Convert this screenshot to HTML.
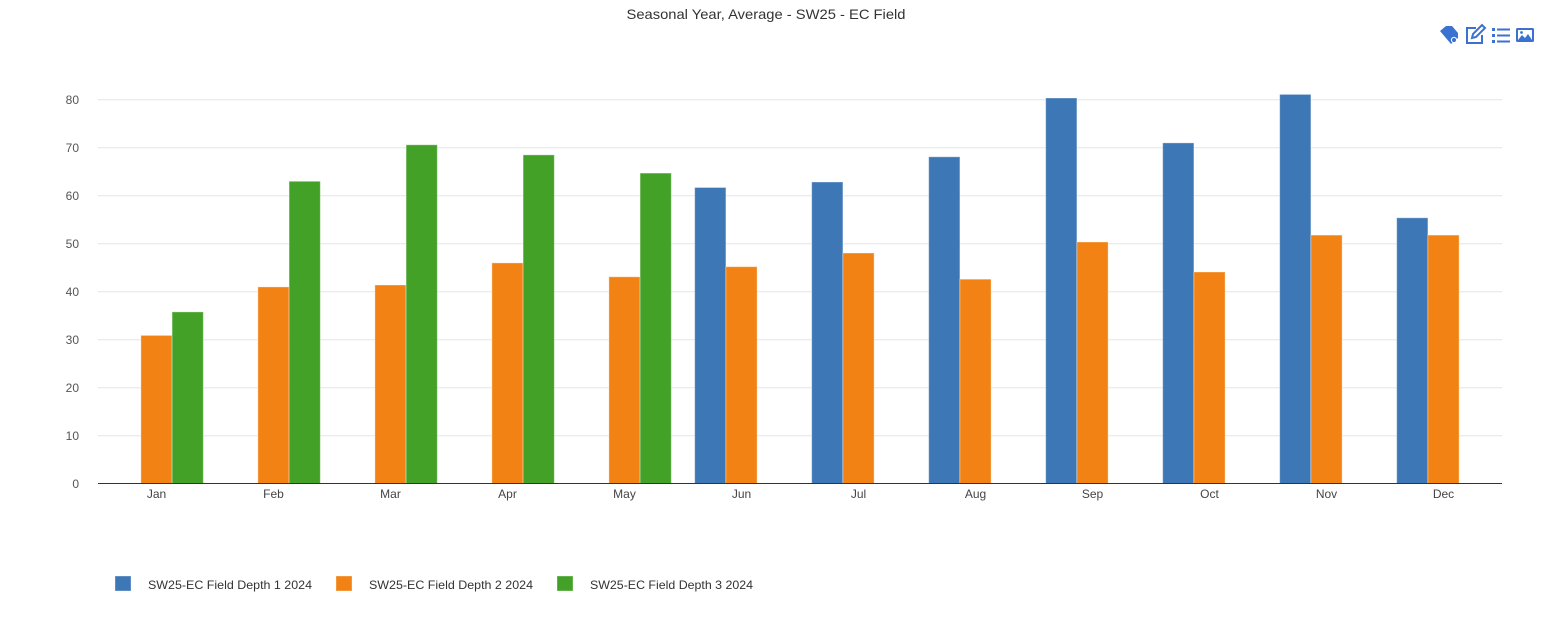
<!DOCTYPE html>
<html><head><meta charset="utf-8"><style>
html,body{margin:0;padding:0;background:#fff;width:1546px;height:622px;overflow:hidden}
svg{display:block;font-family:"Liberation Sans",sans-serif}
</style></head><body>
<svg width="1546" height="622" viewBox="0 0 1546 622" xmlns="http://www.w3.org/2000/svg">
<rect width="1546" height="622" fill="#fff"/>
<text x="766" y="19" text-anchor="middle" font-size="14" fill="#333" textLength="279" lengthAdjust="spacingAndGlyphs">Seasonal Year, Average - SW25 - EC Field</text>

<!-- toolbar icons -->
<g fill="#3b72d1" stroke="none">
  <path d="M1440 31 l6 -5 h6 l6 7 v5 l-7 6 z"/>
  <circle cx="1454" cy="40" r="2.6" fill="#3b72d1" stroke="#fff" stroke-width="1"/>
</g>
<g fill="none" stroke="#3b72d1" stroke-width="2">
  <path d="M1476 28 h-9 v15 h15 v-8"/>
  <path d="M1472 38 l1 -4 l9 -9 l3 3 l-9 9 z"/>
</g>
<g fill="#3b72d1">
  <rect x="1492" y="28" width="3" height="3"/><rect x="1497" y="28.5" width="13" height="2"/>
  <rect x="1492" y="34" width="3" height="3"/><rect x="1497" y="34.5" width="13" height="2"/>
  <rect x="1492" y="40" width="3" height="3"/><rect x="1497" y="40.5" width="13" height="2"/>
</g>
<g>
  <rect x="1516" y="28" width="18" height="14" rx="1.5" fill="#3b72d1"/>
  <rect x="1518" y="30" width="14" height="10" fill="#fff"/>
  <path d="M1518 40 l4 -5 l3 3 l3 -4 l4 6 z" fill="#3b72d1"/>
  <circle cx="1521.5" cy="32.5" r="1.4" fill="#3b72d1"/>
</g>

<!-- grid -->
<g stroke="#e6e6e6" stroke-width="1">
  <line x1="98" x2="1502" y1="99.7" y2="99.7"/>
  <line x1="98" x2="1502" y1="147.7" y2="147.7"/>
  <line x1="98" x2="1502" y1="195.7" y2="195.7"/>
  <line x1="98" x2="1502" y1="243.7" y2="243.7"/>
  <line x1="98" x2="1502" y1="291.7" y2="291.7"/>
  <line x1="98" x2="1502" y1="339.7" y2="339.7"/>
  <line x1="98" x2="1502" y1="387.7" y2="387.7"/>
  <line x1="98" x2="1502" y1="435.7" y2="435.7"/>
</g>

<!-- y labels -->
<g font-size="12" fill="#555" text-anchor="end">
  <text x="79" y="104">80</text>
  <text x="79" y="152">70</text>
  <text x="79" y="200">60</text>
  <text x="79" y="248">50</text>
  <text x="79" y="296">40</text>
  <text x="79" y="344">30</text>
  <text x="79" y="392">20</text>
  <text x="79" y="440">10</text>
  <text x="79" y="488">0</text>
</g>

<!-- bars -->
<g stroke="rgba(255,255,255,0.35)" stroke-width="1">
  <!-- blue -->
  <g fill="#3d77b5">
    <rect x="694.7" y="187.5" width="31.2" height="296"/>
    <rect x="811.7" y="182.0" width="31.2" height="301.5"/>
    <rect x="928.7" y="156.8" width="31.2" height="326.7"/>
    <rect x="1045.7" y="98.0" width="31.2" height="385.5"/>
    <rect x="1162.7" y="142.9" width="31.2" height="340.6"/>
    <rect x="1279.7" y="94.4" width="31.2" height="389.1"/>
    <rect x="1396.7" y="217.8" width="31.2" height="265.7"/>
  </g>
  <!-- orange -->
  <g fill="#f28213">
    <rect x="140.9" y="335.4" width="31.2" height="148.1"/>
    <rect x="257.9" y="286.9" width="31.2" height="196.6"/>
    <rect x="374.9" y="285.0" width="31.2" height="198.5"/>
    <rect x="491.9" y="262.9" width="31.2" height="220.6"/>
    <rect x="608.9" y="276.8" width="31.2" height="206.7"/>
    <rect x="725.9" y="266.7" width="31.2" height="216.8"/>
    <rect x="842.9" y="253.0" width="31.2" height="230.5"/>
    <rect x="959.9" y="279.2" width="31.2" height="204.3"/>
    <rect x="1076.9" y="242.0" width="31.2" height="241.5"/>
    <rect x="1193.9" y="272.0" width="31.2" height="211.5"/>
    <rect x="1310.9" y="235.1" width="31.2" height="248.4"/>
    <rect x="1427.9" y="235.1" width="31.2" height="248.4"/>
  </g>
  <!-- green -->
  <g fill="#44a127">
    <rect x="172.1" y="311.9" width="31.2" height="171.6"/>
    <rect x="289.1" y="181.3" width="31.2" height="302.2"/>
    <rect x="406.1" y="144.8" width="31.2" height="338.7"/>
    <rect x="523.1" y="154.9" width="31.2" height="328.6"/>
    <rect x="640.1" y="173.1" width="31.2" height="310.4"/>
  </g>
</g>

<!-- x axis -->
<line x1="98" x2="1502" y1="483.5" y2="483.5" stroke="#333" stroke-width="1"/>
<g font-size="12" fill="#444" text-anchor="middle">
  <text x="156.5" y="498">Jan</text>
  <text x="273.5" y="498">Feb</text>
  <text x="390.5" y="498">Mar</text>
  <text x="507.5" y="498">Apr</text>
  <text x="624.5" y="498">May</text>
  <text x="741.5" y="498">Jun</text>
  <text x="858.5" y="498">Jul</text>
  <text x="975.5" y="498">Aug</text>
  <text x="1092.5" y="498">Sep</text>
  <text x="1209.5" y="498">Oct</text>
  <text x="1326.5" y="498">Nov</text>
  <text x="1443.5" y="498">Dec</text>
</g>

<!-- legend -->
<g font-size="12" fill="#333">
  <rect x="115" y="576" width="16" height="15" fill="#3d77b5" stroke="rgba(255,255,255,0.35)"/>
  <text x="148" y="589" textLength="164" lengthAdjust="spacingAndGlyphs">SW25-EC Field Depth 1 2024</text>
  <rect x="336" y="576" width="16" height="15" fill="#f28213" stroke="rgba(255,255,255,0.35)"/>
  <text x="369" y="589" textLength="164" lengthAdjust="spacingAndGlyphs">SW25-EC Field Depth 2 2024</text>
  <rect x="557" y="576" width="16" height="15" fill="#44a127" stroke="rgba(255,255,255,0.35)"/>
  <text x="590" y="589" textLength="163" lengthAdjust="spacingAndGlyphs">SW25-EC Field Depth 3 2024</text>
</g>
</svg>
</body></html>
